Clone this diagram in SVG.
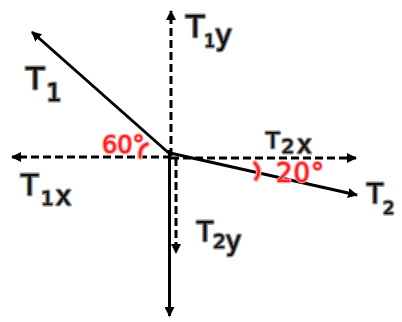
<svg xmlns="http://www.w3.org/2000/svg" width="402" height="322" viewBox="0 0 402 322">
<defs>
<marker id="ah" viewBox="0 0 10 10" refX="9" refY="5" markerWidth="10" markerHeight="10" markerUnits="userSpaceOnUse" orient="auto">
<path d="M0,0 L10,5 L0,10 z" fill="#000"/>
</marker>
</defs>
<style>
.solid{stroke:#000;stroke-width:3;fill:none;marker-end:url(#ah)}
.dash{stroke:#000;stroke-width:3;fill:none;stroke-dasharray:8 4;marker-end:url(#ah)}
.lbl{font-family:"DejaVu Sans","Liberation Sans",sans-serif;fill:#111;stroke:#8a8a8a;stroke-width:3;stroke-linejoin:round;paint-order:stroke}
.ang{font-family:"DejaVu Sans","Liberation Sans",sans-serif;fill:#ff2020;stroke:#ff9a9a;stroke-width:2.5;stroke-linejoin:round;paint-order:stroke}
.arc{fill:none;stroke:#ff2020;stroke-width:2.5;stroke-linecap:round}
.arch{fill:none;stroke:#ff9a9a;stroke-width:5.5;stroke-linecap:round}
</style>
<rect width="402" height="322" fill="#fff"/>
<g id="connectors">
<line class="dash" x1="171" y1="156" x2="171" y2="11"/>
<line class="dash" x1="171" y1="157" x2="12" y2="157"/>
<line class="dash" x1="171" y1="158" x2="356" y2="158"/>
<line class="dash" x1="176" y1="158" x2="176" y2="253"/>
<line class="solid" x1="169.5" y1="150" x2="169.5" y2="316"/>
<line class="solid" x1="171" y1="155" x2="32" y2="32"/>
<line class="solid" x1="170" y1="153" x2="357" y2="195"/>
</g>
<g id="T1"><text class="lbl" x="26" y="89" font-size="30">T<tspan font-size="24" dx="2" dy="12">1</tspan></text></g>
<g id="T1y"><text class="lbl" x="186" y="37" font-size="30">T<tspan font-size="17" dy="10">1</tspan><tspan font-size="28" dy="-2">y</tspan></text></g>
<g id="T2x"><text class="lbl" x="266" y="148" font-size="22">T<tspan font-size="20" dx="2" dy="5">2</tspan><tspan font-size="24" dx="3">x</tspan></text></g>
<g id="T1x"><text class="lbl" x="21" y="195" font-size="28">T<tspan font-size="20" dx="3" dy="10">1</tspan><tspan font-size="26" dx="2">x</tspan></text></g>
<g id="T2y"><text class="lbl" x="197" y="241" font-size="26">T<tspan font-size="20" dy="7">2</tspan><tspan font-size="26" dy="2">y</tspan></text></g>
<g id="T2"><text class="lbl" x="367" y="203" font-size="26">T<tspan font-size="18" dy="11">2</tspan></text></g>
<g id="angle60">
<path class="arch" d="M140,157 Q139,147 147,144"/>
<path class="arc" d="M140,157 Q139,147 147,144"/>
<text class="ang" x="102" y="153" font-size="24">60°</text>
</g>
<g id="angle20">
<path class="arch" d="M255,163 Q262,171 256,179"/>
<path class="arc" d="M255,163 Q262,171 256,179"/>
<text class="ang" x="276" y="182" font-size="26" letter-spacing="1">20°</text>
</g>
</svg>
